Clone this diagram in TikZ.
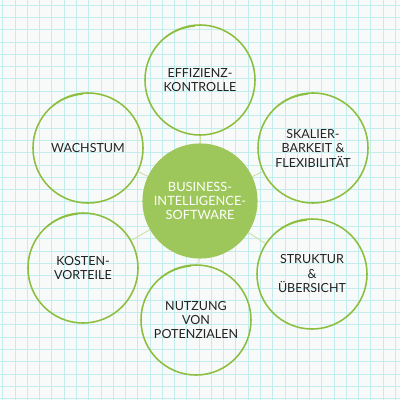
\documentclass[tikz,border=0pt]{standalone}
\usepackage{fontspec}
\setmainfont{Lato}
\definecolor{bgc}{HTML}{F8F9F9}
\definecolor{gridc}{HTML}{C2EDEC}
\definecolor{ringc}{HTML}{8CBF3F}
\definecolor{hubc}{HTML}{9DC75A}
\definecolor{linkc}{HTML}{C9DFA5}
\definecolor{txtc}{HTML}{222222}
\tikzset{
  bubble/.style={circle, draw=ringc, line width=1.1pt, minimum size=2.75cm, inner sep=0pt,
    align=center, text=txtc, font=\fontsize{8.9}{10.3}\selectfont},
  hub/.style={circle, fill=hubc, draw=hubc, line width=0.8pt, minimum size=2.85cm, inner sep=0pt,
    align=center, text=white, font=\fontsize{9.1}{10}\selectfont},
  link/.style={draw=linkc, line width=0.6pt},
  swoosh/.style={draw=ringc, line width=0.8pt}
}
\begin{document}
\begin{tikzpicture}[x=0.025cm,y=-0.025cm]
\useasboundingbox (0,0) rectangle (400,400);
\fill[bgc] (0,0) rectangle (400,400);
\foreach \i in {0,...,32} {
  \draw[gridc, line width=0.5pt] ({2.7+12.27*\i},0) -- ({2.7+12.27*\i},400);
  \draw[gridc, line width=0.5pt] (0,{5+12.3*\i}) -- (400,{5+12.3*\i});
}
\node[hub] (hub) at (200,201) {BUSINESS-\\INTELLIGENCE-\\SOFTWARE};
\node[bubble] (eff) at (200,80) {EFFIZIENZ-\\KONTROLLE};
\node[bubble] (wac) at (88,148) {WACHSTUM};
\node[bubble] (ska) at (313,148) {SKALIER-\\BARKEIT \&\\FLEXIBILITÄT};
\node[bubble] (kos) at (83,268) {KOSTEN-\\VORTEILE};
\node[bubble] (str) at (312,274) {STRUKTUR\\\&\\ÜBERSICHT};
\node[bubble] (nut) at (196,320) {NUTZUNG\\VON\\POTENZIALEN};
\foreach \n in {eff,wac,ska,kos,str,nut} {
  \draw[link] (hub) -- (\n);
}
\foreach \n in {eff,wac,ska,kos,str,nut} {
  \draw[swoosh] ([shift={(-1,2)}]\n.130) arc[start angle=130, end angle=95, radius=1.42cm];
}
\end{tikzpicture}
\end{document}
